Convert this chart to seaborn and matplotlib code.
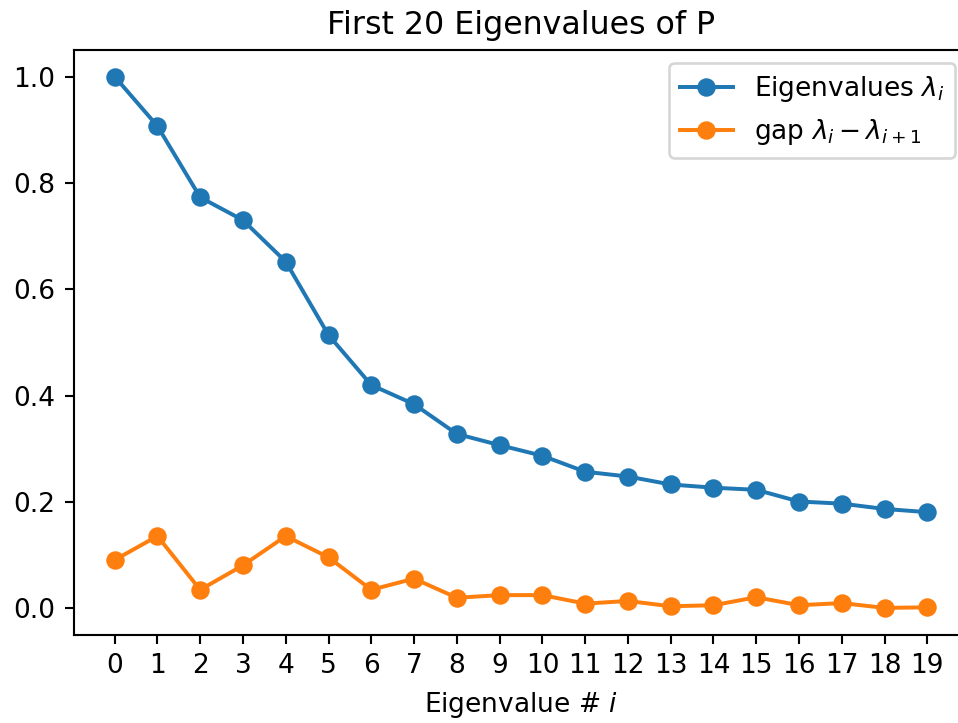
import numpy as np
import pandas as pd
import matplotlib
matplotlib.use("Agg")
import matplotlib.pyplot as plt
import seaborn as sns

index = list(range(20))
eigenvalues = [1.000, 0.907, 0.773, 0.730, 0.652, 0.514, 0.420, 0.384, 0.328, 0.307,
               0.287, 0.257, 0.248, 0.233, 0.227, 0.223, 0.201, 0.197, 0.187, 0.181]
gaps = [0.091, 0.136, 0.035, 0.081, 0.136, 0.096, 0.035, 0.056, 0.020, 0.025,
        0.025, 0.009, 0.014, 0.004, 0.006, 0.021, 0.006, 0.010, 0.001, 0.002]
xtick_labels = [str(i) for i in index]

plt.rcParams['font.family'] = ['DejaVu Sans']

dpi = 190
fig = plt.figure(figsize=(958 / dpi, 723 / dpi), dpi=dpi)
ax = fig.add_axes([74 / 958, 88 / 723, (968 - 74) / 958, (635 - 50) / 723])

df = pd.DataFrame({"i": index, "eig": eigenvalues, "gap": gaps})
sns.lineplot(data=df, x="i", y="eig", ax=ax, color="#1f77b4", marker="o",
             markersize=7, markeredgewidth=0, linewidth=1.5,
             label=r"Eigenvalues $\lambda_i$")
sns.lineplot(data=df, x="i", y="gap", ax=ax, color="#ff7f0e", marker="o",
             markersize=7, markeredgewidth=0, linewidth=1.5,
             label=r"gap $\lambda_i - \lambda_{i+1}$")

ax.set_xticks(index)
ax.set_xticklabels(xtick_labels)
ax.set_xlim(-0.95, 19.95)
ax.set_ylim(-0.05, 1.05)
ax.set_xlabel(r"Eigenvalue # $i$")
ax.set_ylabel("")
ax.set_title("First 20 Eigenvalues of P", fontsize=12)
ax.legend(loc="upper right")

fig.savefig("out.png", dpi=dpi)
